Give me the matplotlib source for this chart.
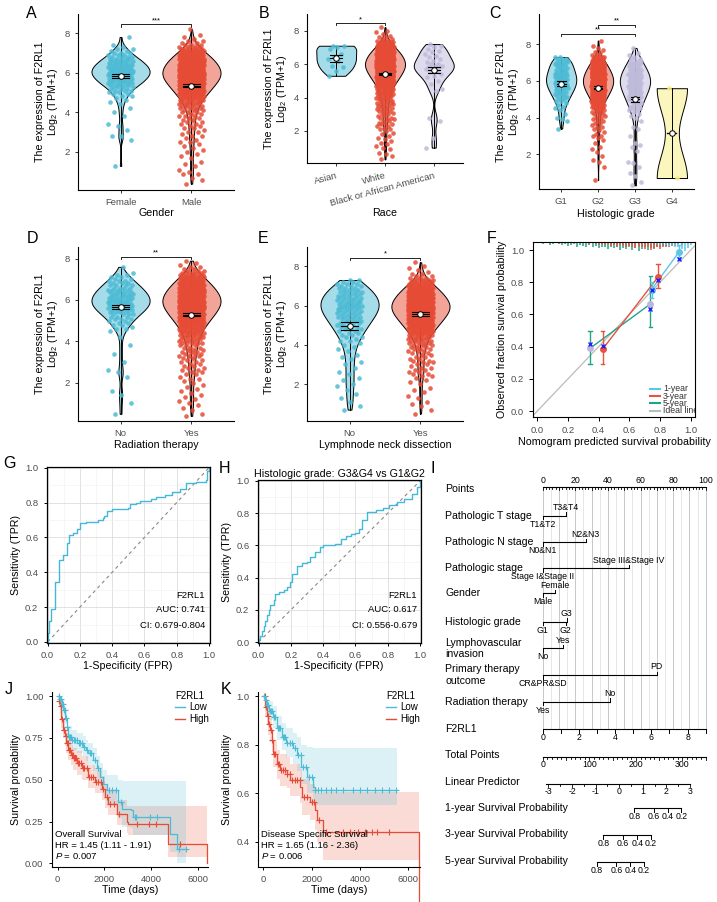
import numpy as np
import matplotlib.pyplot as plt
import matplotlib.colors as mcolors
from matplotlib.lines import Line2D

plt.rcParams['font.family'] = ['Liberation Sans', 'DejaVu Sans']
plt.rcParams['mathtext.fontset'] = 'custom'
plt.rcParams['mathtext.rm'] = 'Liberation Sans'
plt.rcParams['mathtext.it'] = 'Liberation Sans:italic'
plt.rcParams['mathtext.default'] = 'regular'

# ---------------- data: expression violins ----------------
# frequency tables at 0.1 resolution: (lowest value, counts going upward)
gender_names = ['Female', 'Male']
female_tab = (1.3, [1, 0, 0, 0, 0, 0, 0,
                    0, 0, 0, 0, 0, 0, 1, 0, 2, 0,
                    0, 1, 0, 1, 1, 0, 0, 0, 1, 0,
                    1, 0, 1, 0, 1, 1, 1, 1, 2, 2,
                    2, 3, 3, 4, 5, 6, 6, 7, 7, 8,
                    8, 8, 8, 7, 7, 6, 6, 5, 4, 3,
                    3, 2, 2, 1, 1, 0, 0, 0, 1])
male_tab = (0.4, [1, 0, 1, 1, 0, 2,
                  1, 1, 0, 1, 1, 1, 0, 1, 1, 1,
                  1, 1, 1, 1, 1, 2, 1, 1, 2, 1,
                  2, 1, 2, 2, 2, 2, 2, 2, 3, 2,
                  3, 3, 4, 4, 5, 5, 6, 7, 8, 9,
                  10, 11, 12, 13, 14, 15, 16, 17, 18, 18,
                  18, 18, 17, 17, 16, 15, 14, 13, 12, 10,
                  9, 7, 6, 4, 3, 2, 2, 1, 1, 1,
                  0, 0, 1])
gender_mean = [5.82, 5.35]
gender_ci = [0.10, 0.07]

race_names = ['Asian', 'White', 'Black or African American']
asian = [7.1, 7.1, 7.0, 6.9, 6.6, 6.4, 6.3, 6.2, 5.9, 5.8, 5.6, 5.3]
white_tab = (0.3, [1, 0, 1, 1, 1, 0, 1,
                   1, 1, 1, 1, 1, 1, 1, 1, 1, 1,
                   1, 2, 1, 2, 2, 2, 2, 2, 2, 2,
                   2, 2, 3, 2, 3, 3, 3, 3, 3, 3,
                   4, 4, 4, 5, 5, 6, 7, 8, 9, 10,
                   11, 12, 13, 14, 15, 16, 17, 18, 19, 19,
                   19, 19, 18, 18, 17, 16, 15, 14, 12, 11,
                   9, 8, 6, 5, 3, 2, 2, 1, 1, 1,
                   1, 0, 1])
black = [7.2, 7.1, 7.0, 6.9, 6.8, 6.7, 6.6, 6.5, 6.4, 6.3, 6.2, 6.1, 6.0, 6.0, 5.9, 5.9, 5.8, 5.8, 5.7, 5.7,
         5.6, 5.5, 5.4, 5.3, 5.2, 5.0, 4.8, 4.5, 4.4, 2.8, 2.6, 1.6, 1.0]
race_mean = [6.35, 5.42, 5.62]
race_ci = [0.22, 0.07, 0.18]

grade_names = ['G1', 'G2', 'G3', 'G4']
g1_tab = (3.4, [1, 0, 0, 0, 1, 1,
                1, 0, 1, 0, 1, 1, 1, 1, 1, 2,
                2, 2, 2, 3, 3, 3, 3, 4, 4, 4,
                4, 4, 4, 4, 4, 3, 3, 3, 3, 3,
                3, 3, 3, 2])
g2_tab = (0.6, [1, 0, 0, 0,
                0, 0, 0, 1, 0, 0, 1, 1, 0, 1,
                0, 1, 0, 1, 1, 0, 1, 0, 1, 1,
                2, 1, 1, 1, 1, 2, 1, 2, 2, 1,
                2, 2, 2, 3, 3, 3, 4, 5, 6, 7,
                8, 9, 10, 11, 12, 13, 14, 15, 15, 16,
                16, 16, 15, 15, 14, 13, 12, 11, 10, 9,
                8, 7, 5, 4, 2, 1, 1, 1, 1, 1,
                0, 0, 1])
g3_tab = (0.3, [1, 0, 1, 0, 0, 1, 0,
                1, 0, 0, 1, 0, 1, 1, 0, 0, 0,
                0, 0, 1, 0, 1, 1, 1, 0, 0, 0,
                1, 0, 0, 0, 1, 1, 0, 0, 1, 0,
                1, 1, 1, 1, 2, 2, 2, 2, 2, 3,
                3, 3, 3, 4, 4, 4, 4, 5, 5, 5,
                5, 5, 5, 5, 4, 4, 4, 3, 3, 3,
                3, 2, 2, 1, 1, 1, 0, 0, 1])
g4 = [5.6, 0.7]
grade_mean = [5.85, 5.63, 5.0, 3.15]
grade_ci = [0.12, 0.08, 0.14, 0.0]

radio_names = ['No', 'Yes']
radio_no_tab = (0.5, [1, 0, 0, 0, 0,
                      1, 0, 0, 0, 1, 0, 1, 0, 0, 0,
                      0, 0, 0, 1, 0, 1, 1, 0, 0, 0,
                      1, 0, 0, 0, 1, 0, 0, 0, 1, 0,
                      0, 0, 1, 0, 0, 1, 2, 1, 2, 2,
                      2, 3, 3, 4, 4, 5, 5, 6, 6, 6,
                      6, 6, 6, 5, 5, 5, 4, 4, 3, 3,
                      2, 2, 2, 1, 0, 0, 1])
radio_yes_tab = (0.4, [1, 1, 0, 1, 1, 1,
                       1, 1, 1, 1, 1, 1, 1, 1, 1, 1,
                       1, 1, 2, 1, 2, 2, 2, 2, 2, 2,
                       2, 2, 2, 3, 3, 3, 3, 3, 3, 4,
                       4, 4, 5, 5, 6, 6, 7, 8, 9, 10,
                       11, 12, 13, 14, 15, 16, 17, 18, 18, 19,
                       19, 18, 18, 17, 16, 15, 14, 13, 12, 10,
                       9, 8, 6, 5, 3, 2, 2, 1, 1, 1])
radio_mean = [5.68, 5.28]
radio_ci = [0.10, 0.07]

neck_names = ['No', 'Yes']
neck_no_tab = (0.7, [1, 0, 1,
                     0, 1, 0, 1, 0, 1, 0, 1, 0, 1,
                     1, 0, 1, 1, 0, 1, 1, 0, 1, 0,
                     1, 1, 0, 1, 1, 1, 0, 1, 1, 1,
                     1, 1, 2, 1, 2, 2, 2, 2, 3, 3,
                     3, 3, 3, 4, 4, 4, 4, 5, 5, 5,
                     5, 5, 5, 5, 5, 4, 4, 4, 4, 3,
                     3, 3, 2, 2])
neck_yes_tab = (0.5, [1, 0, 1, 0, 1,
                      1, 1, 0, 1, 1, 0, 1, 1, 1, 0,
                      1, 1, 1, 1, 2, 2, 2, 2, 2, 1,
                      2, 2, 2, 2, 2, 2, 2, 3, 3, 3,
                      3, 4, 4, 5, 5, 6, 7, 8, 9, 10,
                      11, 12, 13, 14, 15, 16, 17, 18, 18, 19,
                      19, 18, 18, 17, 16, 15, 14, 13, 12, 10,
                      9, 8, 6, 5, 3, 2, 2, 1, 1, 1,
                      1, 0, 1])
neck_mean = [4.95, 5.57]
neck_ci = [0.20, 0.08]

# ---------------- data: calibration (F) ----------------
cal1_pred = [0.745, 0.925]; cal1_obs = [0.755, 0.99]; cal1_corr = [0.75, 0.945]
cal1_lo = [0.70, 0.96]; cal1_hi = [0.80, 1.03]
cal3_pred = [0.426, 0.789]; cal3_obs = [0.385, 0.835]; cal3_corr = [0.405, 0.815]
cal3_lo = [0.29, 0.765]; cal3_hi = [0.50, 0.915]
cal5_pred = [0.344, 0.737]; cal5_obs = [0.39, 0.665]; cal5_corr = [0.415, 0.635]
cal5_lo = [0.295, 0.525]; cal5_hi = [0.50, 0.84]
hist5 = [1, 2, 1, 3, 2, 1, 2, 3, 2, 4, 3, 2, 5, 3, 4, 6, 3, 5, 4, 7, 5, 6, 8, 5, 7, 6, 9, 7, 8, 6, 9, 7, 10,
         8, 6, 9, 7, 8, 5, 6, 4, 5, 3, 4, 2, 1]
hist3 = [1, 1, 2, 1, 2, 3, 2, 3, 2, 4, 3, 5, 3, 4, 6, 4, 5, 7, 5, 6, 8, 6, 9, 7, 5, 8, 6, 4, 5, 3, 4, 2, 3, 1]
hist1 = [1, 1, 2, 1, 2, 3, 2, 3, 4, 3, 5, 6, 8, 10, 7, 3]

# ---------------- data: ROC (G, H) ----------------
roc_g_fpr = [0, 0, 0.01, 0.02, 0.045, 0.072, 0.097, 0.117, 0.13, 0.155, 0.18, 0.20, 0.24, 0.31, 0.34, 0.35,
             0.37, 0.40, 0.50, 0.51, 0.55, 0.57, 0.64, 0.67, 0.73, 0.77, 0.82, 0.86, 0.92, 0.98, 0.99, 1.0]
roc_g_tpr = [0, 0.05, 0.12, 0.19, 0.345, 0.47, 0.50, 0.57, 0.613, 0.625, 0.65, 0.68, 0.69, 0.70, 0.71, 0.725,
             0.75, 0.765, 0.77, 0.79, 0.80, 0.81, 0.82, 0.83, 0.845, 0.86, 0.88, 0.91, 0.92, 0.93, 0.98, 1.0]
roc_h_fpr = [0, 0.005, 0.01, 0.02, 0.03, 0.04, 0.05, 0.062, 0.072, 0.093, 0.103, 0.124, 0.155, 0.175, 0.196,
             0.206, 0.237, 0.268, 0.30, 0.32, 0.35, 0.38, 0.40, 0.47, 0.51, 0.54, 0.57, 0.60, 0.62, 0.64, 0.67,
             0.73, 0.77, 0.81, 0.86, 0.90, 0.95, 0.98, 1.0]
roc_h_tpr = [0, 0.02, 0.04, 0.07, 0.10, 0.13, 0.17, 0.20, 0.23, 0.26, 0.30, 0.31, 0.32, 0.34, 0.37, 0.42, 0.47,
             0.49, 0.495, 0.53, 0.56, 0.59, 0.60, 0.61, 0.64, 0.66, 0.67, 0.68, 0.70, 0.76, 0.81, 0.82, 0.83,
             0.85, 0.87, 0.89, 0.92, 0.96, 1.0]

# ---------------- data: Kaplan-Meier (J, K) ----------------
jl_t = [0, 100, 180, 250, 320, 390, 460, 600, 850, 1100, 1200, 1320, 1530, 1680, 1810, 1960, 2100, 2600, 2750,
        3170, 3250, 4820, 5100, 5520]
jl_s = [1, 0.985, 0.95, 0.917, 0.87, 0.817, 0.757, 0.737, 0.717, 0.697, 0.677, 0.657, 0.617, 0.567, 0.517,
        0.477, 0.437, 0.367, 0.327, 0.317, 0.277, 0.177, 0.087, 0.087]
jl_lo = [1, 0.96, 0.92, 0.88, 0.83, 0.77, 0.70, 0.68, 0.66, 0.64, 0.61, 0.59, 0.55, 0.49, 0.44, 0.40, 0.35,
         0.27, 0.22, 0.21, 0.17, 0.07, 0.0, 0.0]
jl_hi = [1, 1.0, 0.98, 0.96, 0.92, 0.87, 0.82, 0.80, 0.78, 0.76, 0.74, 0.72, 0.69, 0.64, 0.60, 0.56, 0.53,
         0.50, 0.49, 0.49, 0.49, 0.49, 0.49, 0.49]
jl_cens = [60, 120, 150, 200, 230, 280, 300, 350, 420, 480, 520, 560, 640, 700, 760, 820, 900, 980, 1050,
           1150, 1250, 1400, 1450, 1600, 1750, 2200, 2350, 2500, 2700, 3300, 3350, 3950, 4250, 5200, 5500]
jh_t = [0, 60, 100, 170, 240, 310, 380, 460, 560, 670, 850, 1030, 1310, 1600, 1890, 2030, 2170, 2530, 2960,
        3030, 4740, 6400]
jh_s = [1, 0.97, 0.94, 0.86, 0.80, 0.76, 0.72, 0.677, 0.65, 0.627, 0.60, 0.567, 0.517, 0.487, 0.447, 0.397,
        0.357, 0.297, 0.247, 0.237, 0.117, 0.0]
jh_lo = [1, 0.94, 0.90, 0.81, 0.75, 0.70, 0.66, 0.62, 0.59, 0.56, 0.53, 0.50, 0.45, 0.42, 0.38, 0.33, 0.29,
         0.23, 0.18, 0.17, 0.04, 0.0]
jh_hi = [1, 0.99, 0.97, 0.91, 0.86, 0.82, 0.78, 0.74, 0.71, 0.69, 0.67, 0.64, 0.59, 0.56, 0.52, 0.47, 0.43,
         0.38, 0.34, 0.34, 0.345, 0.0]
jh_cens = [80, 130, 200, 260, 290, 350, 400, 430, 500, 540, 600, 650, 700, 760, 800, 870, 920, 1000, 1080,
           1150, 1250, 1350, 1450, 1500, 1650, 1750, 1850, 1950, 2100, 2250, 2400, 2650, 3400, 3900, 4200, 5250]

kl_t = [0, 80, 140, 250, 410, 550, 760, 960, 1240, 1380, 1580, 1790, 2060, 2130, 5510]
kl_s = [1, 0.985, 0.963, 0.94, 0.915, 0.867, 0.833, 0.806, 0.785, 0.758, 0.71, 0.668, 0.627, 0.614, 0.614]
kl_lo = [1, 0.96, 0.93, 0.90, 0.87, 0.82, 0.78, 0.75, 0.72, 0.69, 0.64, 0.60, 0.56, 0.55, 0.55]
kl_hi = [1, 1.0, 0.99, 0.98, 0.96, 0.92, 0.89, 0.87, 0.85, 0.83, 0.80, 0.79, 0.785, 0.785, 0.785]
kl_cens = [50, 100, 150, 200, 260, 320, 380, 450, 500, 600, 650, 700, 800, 850, 900, 1000, 1100, 1200, 1300,
           1450, 1550, 1650, 1750, 1900, 2000, 2150, 2250, 2400, 2600, 2800, 3000, 3300, 3700, 4000, 4300,
           4600, 4900, 5200, 5500]
kh_t = [0, 70, 140, 210, 280, 350, 420, 550, 700, 970, 1110, 1520, 1590, 1940, 2140, 2210, 2490, 6420]
kh_s = [1, 0.956, 0.92, 0.887, 0.86, 0.818, 0.763, 0.722, 0.695, 0.68, 0.653, 0.627, 0.585, 0.565, 0.53,
        0.489, 0.44, 0.0]
kh_lo = [1, 0.92, 0.88, 0.84, 0.81, 0.77, 0.71, 0.66, 0.63, 0.62, 0.59, 0.56, 0.51, 0.49, 0.45, 0.40, 0.326, 0.0]
kh_hi = [1, 0.99, 0.97, 0.94, 0.91, 0.87, 0.82, 0.78, 0.76, 0.75, 0.72, 0.70, 0.66, 0.64, 0.62, 0.60, 0.607, 0.0]
kh_cens = [60, 120, 180, 240, 300, 380, 450, 500, 600, 650, 750, 800, 900, 1000, 1100, 1200, 1300, 1400, 1500,
           1700, 1800, 2000, 2100, 2300, 2600, 3300, 3600, 3900, 4200, 4500, 4700, 5200]

# ---------------- data: nomogram (I) ----------------
nomo_vars = ['Pathologic T stage', 'Pathologic N stage', 'Pathologic stage', 'Gender', 'Histologic grade',
             'Lymphovascular\ninvasion', 'Primary therapy\noutcome', 'Radiation therapy']
nomo_levels = [['T1&T2', 'T3&T4'], ['N0&N1', 'N2&N3'], ['Stage I&Stage II', 'Stage III&Stage IV'],
               ['Male', 'Female'], ['G1', 'G2', 'G3'], ['No', 'Yes'], ['CR&PR&SD', 'PD'], ['Yes', 'No']]
nomo_points = [[0, 14.3], [0, 26.4], [0, 52.8], [0, 7.6], [0, 14.0, 14.8], [0, 12.7], [0, 70.0], [0, 41.0]]
nomo_side = [['b', 'a'], ['b', 'a'], ['b', 'a'], ['b', 'a'], ['b', 'b', 'a'], ['b', 'a'], ['b', 'a'], ['b', 'a']]
f2rl1_max = 9
total_max = 350
lp_ticks = [-3, -2, -1, 0, 1, 2, 3]
lp_anchor_lp = [-3, 3]
lp_anchor_total = [12.2, 316.4]
surv_labels = ['1-year Survival Probability', '3-year Survival Probability', '5-year Survival Probability']
surv_ticks = [0.8, 0.6, 0.4, 0.2]
surv_total = [[196.7, 238.4, 268.5, 297.9], [130.2, 171.9, 203.4, 232.1], [115.9, 158.2, 188.3, 217.7]]

# ---------------- figure ----------------
W, H = 717, 902
fig = plt.figure(figsize=(W / 100, H / 100), dpi=100)
BLUE, RED, PURPLE, YELLOW = '#4DBBD5', '#E64B35', '#BEBADA', '#F7EE7F'
GREY30 = '#4D4D4D'


def expand(tab):
    lo, counts = tab
    vals = np.round(lo + 0.1 * np.arange(len(counts)), 1)
    return np.repeat(vals, counts)


def add_ax(l, t, r, b):
    return fig.add_axes([l / W, 1 - b / H, (r - l) / W, (b - t) / H])


def ftext(x, y, s, **kw):
    fig.text(x / W, 1 - y / H, s, **kw)


def kde_outline(vals, n=256):
    v = np.asarray(vals, float)
    sd = v.std(ddof=1)
    q75, q25 = np.percentile(v, [75, 25])
    bw = 0.9 * min(sd, (q75 - q25) / 1.34) * len(v) ** -0.2
    yy = np.linspace(v.min(), v.max(), n)
    d = np.exp(-0.5 * ((yy[:, None] - v[None, :]) / bw) ** 2).sum(1)
    return yy, d / d.max()


def violin_panel(box, groups, names, colors, means, cis, ylim, brackets, rot=0):
    ax = add_ax(*box)
    for i, (vals, c) in enumerate(zip(groups, colors)):
        v = np.asarray(vals, float)
        yy, d = kde_outline(v)
        hw = d * 0.41
        ax.fill_betweenx(yy, i - hw, i + hw, facecolor=mcolors.to_rgba(c, 0.5),
                         edgecolor='black', lw=0.7, zorder=1)
        ax.plot([i, i], [v.min(), v.max()], color='black', lw=0.7, zorder=2)
        k = np.arange(len(v))
        off = ((k * 0.6180339887 + 0.3) % 1 - 0.5) * 0.36
        ax.scatter(i + off, v, s=11, color=c, alpha=0.85, lw=0, zorder=3)
        m, ci = means[i], cis[i]
        ax.plot([i, i], [m - ci, m + ci], color='black', lw=0.8, zorder=4)
        for yv in (m - ci, m, m + ci):
            ax.plot([i - 0.12, i + 0.12], [yv, yv], color='black', lw=0.8, zorder=4)
        ax.scatter([i], [m], s=16, facecolor='white', edgecolor='black', lw=0.7, zorder=5)
    for x1, x2, y, lab in brackets:
        ax.plot([x1, x1, x2, x2], [y - 0.12, y, y, y - 0.12], color='black', lw=0.6)
        ax.text((x1 + x2) / 2, y + 0.02, lab, ha='center', va='bottom', fontsize=5.5)
    ax.set_xlim(-0.6, len(groups) - 0.4)
    ax.set_ylim(*ylim)
    ax.set_yticks([2, 4, 6, 8])
    ax.set_xticks(range(len(groups)))
    if rot:
        ax.set_xticklabels(names, rotation=rot, ha='right', rotation_mode='anchor')
    else:
        ax.set_xticklabels(names)
    for s in ['top', 'right']:
        ax.spines[s].set_visible(False)
    for s in ['left', 'bottom']:
        ax.spines[s].set_linewidth(0.8)
    ax.tick_params(labelsize=6.8, labelcolor=GREY30, length=2.5, width=0.7, colors='#333333')
    ax.set_ylabel('The expression of F2RL1\nLog$_2$ (TPM+1)', fontsize=7.7, linespacing=1.15, labelpad=3)
    return ax


violin_panel((78, 14, 234, 190), [expand(female_tab), expand(male_tab)], gender_names, [BLUE, RED],
             gender_mean, gender_ci, (0.08, 8.96), [(0, 1, 8.44, '***')])
violin_panel((307, 14, 463, 163), [asian, expand(white_tab), black], race_names, [BLUE, RED, PURPLE],
             race_mean, race_ci, (0.08, 9.0), [(0, 1, 8.44, '*')], rot=15)
violin_panel((539, 14, 694, 189), [expand(g1_tab), expand(g2_tab), expand(g3_tab), g4], grade_names,
             [BLUE, RED, PURPLE, YELLOW], grade_mean, grade_ci, (0.1, 9.65),
             [(1, 2, 9.07, '**'), (0, 2, 8.55, '**')])
violin_panel((78, 247, 234, 421), [expand(radio_no_tab), expand(radio_yes_tab)], radio_names, [BLUE, RED],
             radio_mean, radio_ci, (0.15, 8.56), [(0, 1, 8.08, '**')])
violin_panel((307, 247, 463, 421), [expand(neck_no_tab), expand(neck_yes_tab)], neck_names, [BLUE, RED],
             neck_mean, neck_ci, (0.12, 8.98), [(0, 1, 8.44, '*')])
ftext(156, 213, 'Gender', ha='center', va='center', fontsize=7.7)
ftext(385, 213, 'Race', ha='center', va='center', fontsize=7.7)
ftext(616, 214, 'Histologic grade', ha='center', va='center', fontsize=7.7)
ftext(156, 445, 'Radiation therapy', ha='center', va='center', fontsize=7.7)
ftext(385, 445, 'Lymphnode neck dissection', ha='center', va='center', fontsize=7.7)

# ---------------- F: calibration ----------------
C1, C3, C5 = '#5BC6E8', '#E8533F', '#1FA488'
axf = add_ax(533, 241.7, 695, 416.7)
axf.set_xlim(-0.028, 1.028)
axf.set_ylim(-0.035, 1.052)
axf.plot([-0.05, 1.1], [-0.05, 1.1], color='#BBBBBB', lw=0.9, zorder=1)
top = 1.052
for hist, start, col in [(hist5, 0.02, C5), (hist3, 0.30, C3), (hist1, 0.70, C1)]:
    xs = start + 0.02 * np.arange(len(hist))
    axf.vlines(xs, top - np.asarray(hist) * 0.006, top, color=col, lw=1.1, zorder=2)
for pred, obs, corr, lo, hi, col, ccol in [
        (cal5_pred, cal5_obs, cal5_corr, cal5_lo, cal5_hi, C5, '#BDB7DB'),
        (cal3_pred, cal3_obs, cal3_corr, cal3_lo, cal3_hi, C3, C3),
        (cal1_pred, cal1_obs, cal1_corr, cal1_lo, cal1_hi, C1, C1)]:
    axf.plot(pred, obs, color=col, lw=1.0, zorder=3)
    axf.vlines(pred, lo, hi, color=col, lw=1.0, zorder=3)
    for x, l, h in zip(pred, lo, hi):
        axf.plot([x - 0.012, x + 0.012], [l, l], color=col, lw=1.0, zorder=3)
        axf.plot([x - 0.012, x + 0.012], [h, h], color=col, lw=1.0, zorder=3)
    axf.plot(pred, obs, 'o', color=ccol, ms=4, zorder=4)
    axf.plot(pred, corr, 'x', color='#2020FF', ms=3.5, mew=1.0, zorder=5)
axf.set_xticks(np.arange(0, 1.01, 0.2))
axf.set_yticks(np.arange(0, 1.01, 0.2))
axf.set_xticklabels(['0.0', '0.2', '0.4', '0.6', '0.8', '1.0'])
axf.set_yticklabels(['0.0', '0.2', '0.4', '0.6', '0.8', '1.0'])
axf.tick_params(labelsize=6.8, labelcolor=GREY30, length=3, width=0.7)
for s in axf.spines.values():
    s.set_linewidth(0.8)
axf.set_ylabel('Observed fraction survival probability', fontsize=7.7, labelpad=3)
ftext(614, 441.7, 'Nomogram predicted survival probability', ha='center', va='center', fontsize=7.7)
for py, lab, col in [(388.5, '1-year', C1), (396, '3-year', C3), (403.3, '5-year', C5), (410.5, 'Ideal line', '#BBBBBB')]:
    yv = (411 - py) / 161
    axf.plot([(650 - 537.3) / 153.4, (660 - 537.3) / 153.4], [yv, yv], color=col, lw=1.5)
    axf.text((663 - 537.3) / 153.4, yv, lab, fontsize=6.3, va='center', ha='left', color='#333333', clip_on=True)


# ---------------- G, H: ROC ----------------
def roc_panel(box, fpr, tpr, auc_txt, ci_txt, txt_x, title=None):
    ax = add_ax(*box)
    ax.set_xlim(-0.006, 1.006)
    ax.set_ylim(-0.006, 1.006)
    ax.set_xticks(np.arange(0, 1.01, 0.2))
    ax.set_yticks(np.arange(0, 1.01, 0.2))
    ax.set_xticks(np.arange(0.1, 1.0, 0.2), minor=True)
    ax.set_yticks(np.arange(0.1, 1.0, 0.2), minor=True)
    ax.set_xticklabels(['0.0', '0.2', '0.4', '0.6', '0.8', '1.0'])
    ax.set_yticklabels(['0.0', '0.2', '0.4', '0.6', '0.8', '1.0'])
    ax.grid(which='major', color='#DDDDDD', lw=0.6)
    ax.grid(which='minor', color='#EFEFEF', lw=0.4)
    ax.set_axisbelow(True)
    ax.plot([0, 1], [0, 1], color='#888888', lw=0.8, ls=(0, (3, 3)))
    ax.plot(fpr, tpr, drawstyle='steps-post', color='#45B8D8', lw=1.0)
    ax.tick_params(which='major', labelsize=6.8, labelcolor=GREY30, length=2.5, width=0.7)
    ax.tick_params(which='minor', length=0)
    for s in ax.spines.values():
        s.set_linewidth(0.9)
    ax.set_ylabel('Sensitivity (TPR)', fontsize=7.7, labelpad=3)
    if title:
        ax.set_title(title, fontsize=7.7, pad=2)
    ftext(txt_x, 595, 'F2RL1', ha='right', va='center', fontsize=6.8)
    ftext(txt_x, 610, auc_txt, ha='right', va='center', fontsize=6.8)
    ftext(txt_x, 625, ci_txt, ha='right', va='center', fontsize=6.8)
    return ax


roc_panel((46.7, 466.6, 210, 643), roc_g_fpr, roc_g_tpr, 'AUC: 0.741', 'CI: 0.679-0.804', 205)
roc_panel((257.7, 480, 421, 643), roc_h_fpr, roc_h_tpr, 'AUC: 0.617', 'CI: 0.556-0.679', 417,
          title='Histologic grade: G3&G4 vs G1&G2')
ftext(128, 666, '1-Specificity (FPR)', ha='center', va='center', fontsize=7.7)
ftext(339, 666, '1-Specificity (FPR)', ha='center', va='center', fontsize=7.7)


# ---------------- J, K: Kaplan-Meier ----------------
def km_curve(ax, t, s, lo, hi, cens, col, clip=True):
    t = np.asarray(t, float)
    s = np.asarray(s, float)
    ax.fill_between(t, lo, hi, step='post', color=col, alpha=0.2, lw=0)
    ax.plot(t, s, drawstyle='steps-post', color=col, lw=0.9, clip_on=clip)
    idx = np.searchsorted(t, cens, side='right') - 1
    ax.plot(cens, s[idx], '+', color=col, ms=4, mew=0.8)


def km_panel(box, xlim, ylim, yticks, ylabels, low, high, txt, leg_x, txt_x):
    ax = add_ax(*box)
    km_curve(ax, *high, RED, clip=False)
    km_curve(ax, *low, BLUE)
    ax.set_xlim(*xlim)
    ax.set_ylim(*ylim)
    ax.set_xticks([0, 2000, 4000, 6000])
    ax.set_yticks(yticks)
    ax.set_yticklabels(ylabels)
    for sp in ['top', 'right']:
        ax.spines[sp].set_visible(False)
    for sp in ['left', 'bottom']:
        ax.spines[sp].set_linewidth(0.8)
    ax.tick_params(labelsize=6.8, labelcolor=GREY30, length=2.5, width=0.7)
    ax.set_ylabel('Survival probability', fontsize=7.7, labelpad=3)
    handles = [Line2D([], [], color=BLUE, lw=1), Line2D([], [], color=RED, lw=1)]
    ax.legend(handles, ['Low', 'High'], title='F2RL1', loc='upper left',
              bbox_to_anchor=(leg_x / W, 1 - 691 / H), bbox_transform=fig.transFigure, frameon=False,
              fontsize=7, title_fontsize=7, handlelength=1.0, handletextpad=0.5, labelspacing=0.15,
              borderpad=0, borderaxespad=0, alignment='left')
    for py, s in zip([834.3, 845, 856], txt):
        ftext(txt_x, py, s, ha='left', va='center', fontsize=6.8)
    return ax


km_panel((51.7, 691.7, 208, 866.7), (-250, 6450), (-0.02, 1.026), [0, 0.25, 0.5, 0.75, 1.0],
         ['0.00', '0.25', '0.50', '0.75', '1.00'],
         (jl_t, jl_s, jl_lo, jl_hi, jl_cens), (jh_t, jh_s, jh_lo, jh_hi, jh_cens),
         ['Overall Survival', 'HR = 1.45 (1.11 - 1.91)', '$\\it{P}$ = 0.007'], 175, 55)
km_panel((257.7, 691.7, 420, 866.7), (-230, 6480), (0.298, 1.018), [0.4, 0.6, 0.8, 1.0],
         ['0.4', '0.6', '0.8', '1.0'],
         (kl_t, kl_s, kl_lo, kl_hi, kl_cens), (kh_t, kh_s, kh_lo, kh_hi, kh_cens),
         ['Disease Specific Survival', 'HR = 1.65 (1.16 - 2.36)', '$\\it{P}$ = 0.006'], 386, 261)
ftext(130, 890, 'Time (days)', ha='center', va='center', fontsize=7.7)
ftext(339, 890, 'Time (days)', ha='center', va='center', fontsize=7.7)

# ---------------- I: nomogram ----------------
nax = add_ax(440, 470, 717, 902)
nax.set_xlim((440 - 542.7) / 1.63, (717 - 542.7) / 1.63)
nax.set_ylim(902, 470)
nax.axis('off')
row_y = [515.7, 542.3, 568.3, 593.3, 621.7, 648.3, 675, 701.7]
y_pts, y_f2, y_tot, y_lp = 487.3, 729, 756.7, 784
y_surv = [808.3, 835, 862]
lab_x = (445 - 542.7) / 1.63
LBL, TKL = 7.6, 6.3
for p in range(0, 101, 5):
    nax.plot([p, p], [y_pts, y_f2], color='#C8C8C8' if p % 10 == 0 else '#E6E6E6', lw=0.7, zorder=0)
nax.text(lab_x, y_pts + 1.5, 'Points', fontsize=LBL, va='center')
nax.plot([0, 100], [y_pts, y_pts], color='black', lw=0.8)
for p in range(0, 101, 2):
    nax.plot([p, p], [y_pts, y_pts + (3 if p % 10 == 0 else 1.6)], color='black', lw=0.6)
for p in range(0, 101, 20):
    nax.text(p, 480, str(p), fontsize=TKL, ha='center', va='center')
for name, levels, pts, sides, ry in zip(nomo_vars, nomo_levels, nomo_points, nomo_side, row_y):
    nax.text(lab_x, ry, name, fontsize=LBL, va='center', linespacing=1.15)
    nax.plot([min(pts), max(pts)], [ry, ry], color='black', lw=0.8)
    for lev, p, sd in zip(levels, pts, sides):
        d = -1 if sd == 'a' else 1
        nax.plot([p, p], [ry, ry + d * 3.5], color='black', lw=0.7)
        nax.text(p, ry + d * 8.3, lev, fontsize=TKL, ha='center', va='center')
nax.text(lab_x, y_f2, 'F2RL1', fontsize=LBL, va='center')
nax.plot([0, 100], [y_f2, y_f2], color='black', lw=0.8)
for v in range(0, f2rl1_max + 1):
    nax.plot([v * 100 / f2rl1_max] * 2, [y_f2, y_f2 + 4], color='black', lw=0.7)
    if v % 2 == 0:
        nax.text(v * 100 / f2rl1_max, y_f2 + 8.3, str(v), fontsize=TKL, ha='center', va='center')
nax.text(lab_x, y_tot - 1.5, 'Total Points', fontsize=LBL, va='center')
nax.plot([0, 100], [y_tot, y_tot], color='black', lw=0.8)
for tp in range(0, total_max + 1, 10):
    nax.plot([tp * 100 / total_max] * 2, [y_tot, y_tot + (3 if tp % 50 == 0 else 1.8)], color='black', lw=0.6)
for tp in [0, 100, 200, 300]:
    nax.text(tp * 100 / total_max, y_tot + 7.5, str(tp), fontsize=TKL, ha='center', va='center')


def lp_x(v):
    return np.interp(v, lp_anchor_lp, lp_anchor_total) * 100 / total_max


lp_slope = (lp_anchor_total[1] - lp_anchor_total[0]) / (lp_anchor_lp[1] - lp_anchor_lp[0])
lp_lo = (lp_anchor_total[0] - 0.1 * lp_slope) * 100 / total_max
nax.text(lab_x, y_lp - 2.3, 'Linear Predictor', fontsize=LBL, va='center')
nax.plot([lp_lo, lp_x(3) + 0.15], [y_lp, y_lp], color='black', lw=0.8)
for v in np.arange(-3, 3.01, 0.5):
    nax.plot([lp_x(v)] * 2, [y_lp, y_lp + (3 if v == int(v) else 1.8)], color='black', lw=0.6)
for v in lp_ticks:
    nax.text(lp_x(v), y_lp + 7, str(v), fontsize=TKL, ha='center', va='center')
for lab, tps, ry in zip(surv_labels, surv_total, y_surv):
    nax.text(lab_x, ry - 0.6, lab, fontsize=LBL, va='center')
    xs = np.asarray(tps) * 100 / total_max
    nax.plot([xs.min(), xs.max()], [ry, ry], color='black', lw=0.8)
    for x, tv in zip(xs, surv_ticks):
        nax.plot([x, x], [ry, ry + 4], color='black', lw=0.7)
        nax.text(x, ry + 8.5, f'{tv:.1f}', fontsize=TKL, ha='center', va='center')

# ---------------- panel letters ----------------
for lab, x, y in [('A', 31, 13), ('B', 264, 13), ('C', 495, 13), ('D', 33, 239), ('E', 263, 239),
                  ('F', 492, 239), ('G', 10, 463), ('H', 224, 469), ('I', 433, 469), ('J', 9, 689),
                  ('K', 226, 689)]:
    ftext(x, y, lab, fontsize=11.5, ha='center', va='center')

fig.savefig('out.png', dpi=100)
